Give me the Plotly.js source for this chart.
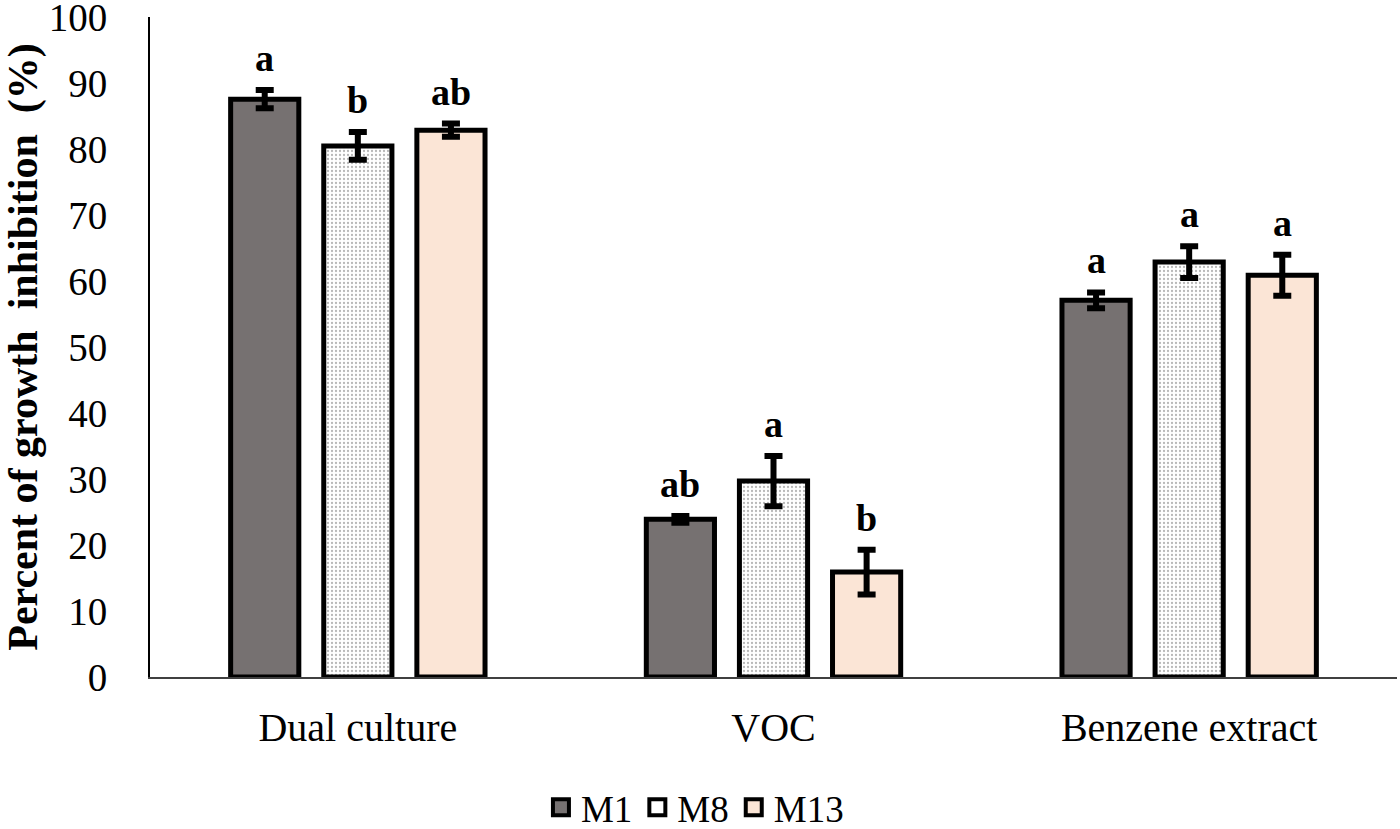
<!DOCTYPE html>
<html>
<head>
<meta charset="utf-8">
<script src="https://cdn.plot.ly/plotly-3.0.1.min.js"></script>
<style>
  html, body { margin: 0; padding: 0; background: #fff; }
  #graph { width: 1400px; height: 829px; }
</style>
</head>
<body>
<div id="graph"></div>
<script>
var categories = ['Dual culture', 'VOC', 'Benzene extract'];
var seriesNames = ['M1', 'M8', 'M13'];

var m1Values = [87.6, 23.9, 57.1];
var m8Values = [80.5, 29.7, 62.9];
var m13Values = [82.9, 15.9, 60.9];

var m1Errors = [1.4, 0.5, 1.2];
var m8Errors = [2.1, 3.8, 2.4];
var m13Errors = [1.0, 3.4, 3.1];

var m1Letters = ['a', 'ab', 'a'];
var m8Letters = ['b', 'a', 'a'];
var m13Letters = ['ab', 'b', 'a'];

var yTicks = [0, 10, 20, 30, 40, 50, 60, 70, 80, 90, 100];

var serif = 'Liberation Serif, Times New Roman, serif';

// bar placement inside each category slot
var slot = 0.224;
var barWidth = 0.164;
var offsets = [-slot, 0, slot];

var values = [m1Values, m8Values, m13Values];
var errors = [m1Errors, m8Errors, m13Errors];
var letters = [m1Letters, m8Letters, m13Letters];

var fills = [
    { color: '#767171' },
    { color: '#ffffff', pattern: { shape: '.', fgcolor: '#b8b8b8', bgcolor: '#ffffff', size: 4, solidity: 0.25 } },
    { color: '#fbe5d6' }
];

var data = [];
var annotations = [];
for (var s = 0; s < seriesNames.length; s++) {
    var xs = [];
    for (var i = 0; i < categories.length; i++) {
        xs.push(i + offsets[s]);
        // significance letter above the error bar
        annotations.push({
            x: i + offsets[s],
            y: values[s][i] + errors[s][i],
            xref: 'x',
            yref: 'y',
            text: letters[s][i],
            showarrow: false,
            yanchor: 'bottom',
            yshift: 9,
            font: { family: serif, size: 38, color: '#000000', weight: 'bold' }
        });
    }
    var marker = { color: fills[s].color, line: { color: '#000000', width: 5 } };
    if (fills[s].pattern) {
        marker.pattern = fills[s].pattern;
    }
    data.push({
        type: 'bar',
        name: seriesNames[s],
        x: xs,
        y: values[s],
        width: barWidth,
        marker: marker,
        error_y: {
            type: 'data',
            array: errors[s],
            visible: true,
            color: '#000000',
            thickness: 6,
            width: 9
        },
        showlegend: false,
        hoverinfo: 'skip'
    });
}

// legend entries with larger square swatches
for (var s = 0; s < seriesNames.length; s++) {
    data.push({
        type: 'scatter',
        mode: 'markers',
        name: seriesNames[s],
        x: [null],
        y: [null],
        marker: { symbol: 'square', size: 16, color: fills[s].color, line: { color: '#000000', width: 4 } },
        showlegend: true,
        hoverinfo: 'skip'
    });
}

var layout = {
    width: 1400,
    height: 829,
    margin: { l: 150, r: 3, t: 17, b: 152, autoexpand: false },
    paper_bgcolor: '#ffffff',
    plot_bgcolor: '#ffffff',
    barmode: 'overlay',
    showlegend: true,
    annotations: annotations,
    legend: {
        orientation: 'h',
        x: 0.437,
        xanchor: 'center',
        y: -0.198,
        yanchor: 'middle',
        font: { family: serif, size: 37, color: '#000000' },
        itemsizing: 'trace',
        itemwidth: 30,
        tracegroupgap: 0
    },
    xaxis: {
        range: [-0.5, 2.5],
        tickvals: [0, 1, 2],
        ticktext: categories,
        showgrid: false,
        zeroline: false,
        showline: true,
        linecolor: '#404040',
        linewidth: 2,
        ticks: '',
        ticklen: 0,
        ticklabelstandoff: 14,
        automargin: false,
        tickfont: { family: serif, size: 40, color: '#000000' },
        fixedrange: true
    },
    yaxis: {
        range: [0, 100.05],
        tickvals: yTicks,
        showgrid: false,
        zeroline: false,
        showline: true,
        linecolor: '#000000',
        linewidth: 2,
        ticks: '',
        ticklabelstandoff: 33,
        ticklabeloverflow: 'allow',
        automargin: false,
        tickfont: { family: serif, size: 39, color: '#000000' },
        title: {
            text: 'Percent of growth  inhibition  (%)',
            font: { family: serif, size: 42, color: '#000000', weight: 'bold' },
            standoff: 6
        },
        fixedrange: true
    }
};

Plotly.newPlot('graph', data, layout, { displayModeBar: false, staticPlot: true });
</script>
</body>
</html>
